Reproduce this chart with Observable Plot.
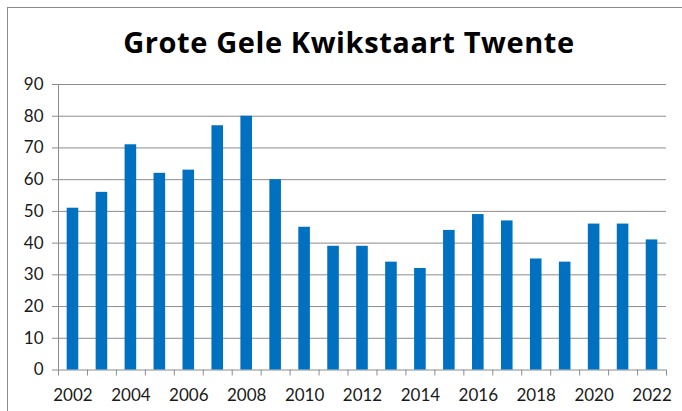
<!DOCTYPE html>
<html><head><meta charset="utf-8">
<script src="https://cdn.jsdelivr.net/npm/d3@7"></script>
<script src="https://cdn.jsdelivr.net/npm/@observablehq/plot@0.6"></script>
<style>
html,body{margin:0;padding:0;background:#fff}
body{width:682px;height:411px;overflow:hidden;position:relative;font-family:Lato,sans-serif}
#frame{position:absolute;left:7px;top:7px;right:0;bottom:0;border-left:1px solid #8c8c8c;border-top:1px solid #8c8c8c;pointer-events:none;z-index:2}
#title{position:absolute;left:8px;width:682px;top:27px;text-align:center;font:bold 29px/29px "Open Sans",sans-serif;color:#000;margin:0;letter-spacing:0.6px}
#chart{position:absolute;left:0;top:70px}
</style>
</head><body>
<div id="frame"></div>
<h1 id="title">Grote Gele Kwikstaart Twente</h1>
<div id="chart"></div>
<script>
const years = [2002,2003,2004,2005,2006,2007,2008,2009,2010,2011,2012,2013,2014,2015,2016,2017,2018,2019,2020,2021,2022];
const counts = [51,56,71,62,63,77,80,60,45,39,39,34,32,44,49,47,35,34,46,46,41];
const yTicks = [0,10,20,30,40,50,60,70,80,90];
const xLabels = [2002,2004,2006,2008,2010,2012,2014,2016,2018,2020,2022];

const data = years.map((y, i) => ({year: y, count: counts[i]}));
const boundaries = years.map(y => y - 0.5).concat([years[years.length - 1] + 0.5]);
const gridColor = "#8c8c8c";

const chart = Plot.plot({
  width: 682,
  height: 341,
  marginLeft: 58,
  marginRight: 16,
  marginTop: 14,
  marginBottom: 41.5,
  x: {type: "linear", domain: [years[0] - 0.5, years[years.length - 1] + 0.5]},
  y: {domain: [0, 90]},
  style: {fontFamily: "Lato, sans-serif", fontSize: "17px", color: "#1a1a1a", background: "white"},
  marks: [
    Plot.gridY(yTicks, {stroke: gridColor, strokeOpacity: 1}),
    Plot.ruleX([years[0] - 0.5], {y1: 0, y2: 90, stroke: gridColor}),
    Plot.rectY(data, {x1: d => d.year - 0.2, x2: d => d.year + 0.2, y1: 0, y2: "count", fill: "#0070C0"}),
    Plot.axisY({ticks: yTicks, tickSize: 6, tickPadding: 9, stroke: gridColor, fill: "#1a1a1a", label: null, tickFormat: "d"}),
    Plot.axisX({ticks: boundaries, tickSize: 6, tickFormat: () => "", stroke: gridColor, label: null}),
    Plot.axisX({ticks: xLabels, tickSize: 0, tickPadding: 19, tickFormat: "d", fill: "#1a1a1a", label: null})
  ]
});
document.getElementById("chart").appendChild(chart);
</script>
</body></html>
